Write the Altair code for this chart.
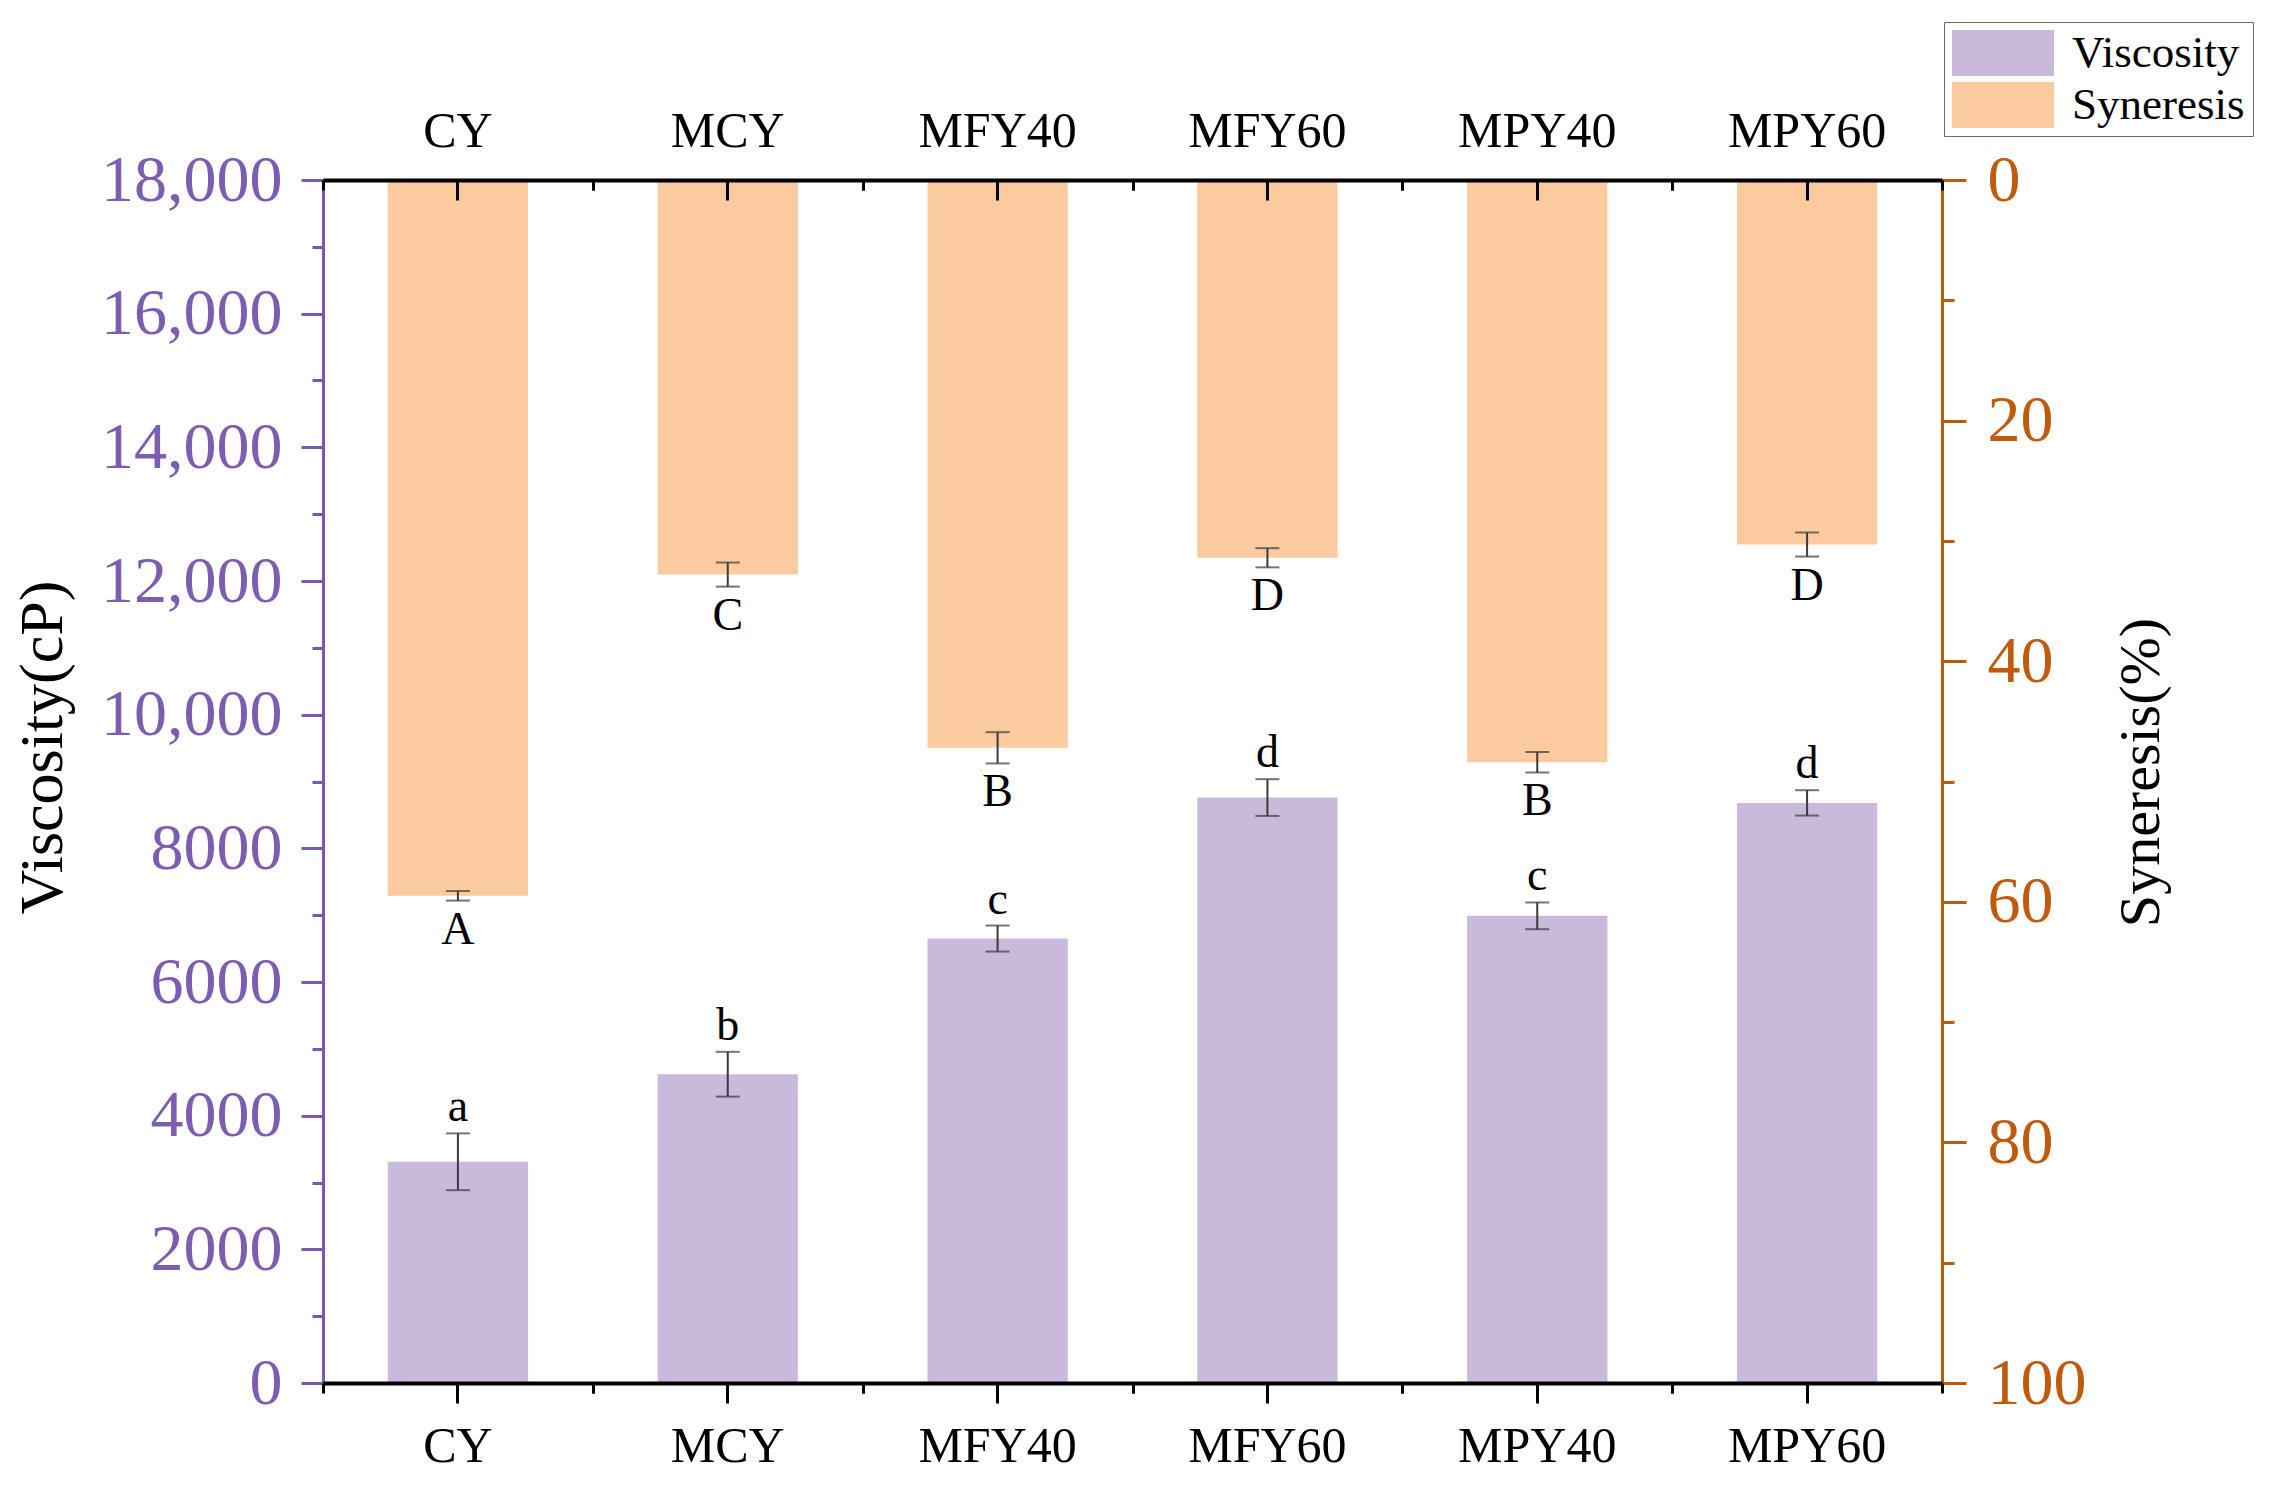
import altair as alt
import pandas as pd

# values
samples = ["CY", "MCY", "MFY40", "MFY60", "MPY40", "MPY60"]
viscosity = [3310, 4620, 6650, 8760, 6990, 8680]
viscosity_sd = [425, 335, 195, 275, 200, 190]
viscosity_group = ["a", "b", "c", "d", "c", "d"]
syneresis = [59.5, 32.8, 47.2, 31.4, 48.4, 30.3]
syneresis_sd = [0.4, 1.0, 1.3, 0.8, 0.85, 1.0]
syneresis_group = ["A", "C", "B", "D", "B", "D"]
series_names = ["Viscosity", "Syneresis"]

PURPLE_BAR = "#C9BADB"
PEACH_BAR = "#FBCB9F"
PURPLE_AXIS = "#7B57B4"
PURPLE_TEXT = "#7C5DB1"
ORANGE_AXIS = "#C05A0C"
ERR = "#3a3a3a"
FONT = "Liberation Serif"

W, H = 1619, 1203
HALF_STEP = W / len(samples) / 2

df = pd.DataFrame(
    {
        "sample": samples,
        "viscosity": viscosity,
        "visc_lo": [v - e for v, e in zip(viscosity, viscosity_sd)],
        "visc_hi": [v + e for v, e in zip(viscosity, viscosity_sd)],
        "visc_grp": viscosity_group,
        "syneresis": syneresis,
        "syn_lo": [v - e for v, e in zip(syneresis, syneresis_sd)],
        "syn_hi": [v + e for v, e in zip(syneresis, syneresis_sd)],
        "syn_grp": syneresis_group,
    }
)

base = alt.Chart(df)
x_scale = alt.Scale(domain=samples, paddingInner=0.48, paddingOuter=0.24)
visc_scale = alt.Scale(domain=[0, 18000], nice=False)
syn_scale = alt.Scale(domain=[0, 100], nice=False, reverse=True)


def x_enc(axis=None):
    return alt.X("sample:N", scale=x_scale, axis=axis, title=None)


color_scale = alt.Scale(domain=series_names, range=[PURPLE_BAR, PEACH_BAR])
legend = alt.Legend(
    title=None,
    orient="none",
    legendX=1621,
    legendY=-158,
    symbolType="M-1,-0.45L1,-0.45L1,0.45L-1,0.45Z",
    symbolSize=10404,
    symbolStrokeWidth=0,
    clipHeight=46,
    rowPadding=6,
    padding=8,
    strokeColor="#6b6b6b",
    fillColor="white",
    labelFont=FONT,
    labelFontSize=45,
    labelColor="black",
    labelOffset=18,
    labelLimit=400,
)

# bars
visc_bars = (
    base.transform_calculate(series="'Viscosity'")
    .mark_bar()
    .encode(
        x=x_enc(),
        y=alt.Y("viscosity:Q", scale=visc_scale, axis=None),
        color=alt.Color("series:N", scale=color_scale, legend=legend),
    )
)
syn_bars = (
    base.transform_calculate(series="'Syneresis'")
    .mark_bar()
    .encode(
        x=x_enc(),
        y=alt.Y("syneresis:Q", scale=syn_scale, axis=None),
        color=alt.Color("series:N", scale=color_scale, legend=legend),
    )
)

# error bars and significance letters
visc_err = base.mark_rule(color=ERR, strokeWidth=2).encode(
    x=x_enc(), y=alt.Y("visc_lo:Q", scale=visc_scale, axis=None), y2="visc_hi:Q"
)
visc_caps = (
    base.transform_fold(["visc_lo", "visc_hi"], as_=["end", "val"])
    .mark_tick(color=ERR, size=24, thickness=2)
    .encode(x=x_enc(), y=alt.Y("val:Q", scale=visc_scale, axis=None))
)
visc_txt = base.mark_text(
    font=FONT, fontSize=46, color="black", baseline="alphabetic", dy=-12
).encode(
    x=x_enc(), y=alt.Y("visc_hi:Q", scale=visc_scale, axis=None), text="visc_grp:N"
)

syn_err = base.mark_rule(color=ERR, strokeWidth=2).encode(
    x=x_enc(), y=alt.Y("syn_lo:Q", scale=syn_scale, axis=None), y2="syn_hi:Q"
)
syn_caps = (
    base.transform_fold(["syn_lo", "syn_hi"], as_=["end", "val"])
    .mark_tick(color=ERR, size=24, thickness=2)
    .encode(x=x_enc(), y=alt.Y("val:Q", scale=syn_scale, axis=None))
)
syn_txt = base.mark_text(
    font=FONT, fontSize=46, color="black", baseline="alphabetic", dy=43
).encode(
    x=x_enc(), y=alt.Y("syn_hi:Q", scale=syn_scale, axis=None), text="syn_grp:N"
)


# y axes: major + minor on each side
def y_axis_layer(field, scale, **kw):
    return base.mark_rule(opacity=0).encode(
        y=alt.Y(field, scale=scale, axis=alt.Axis(grid=False, zindex=1, **kw))
    )


left_common = dict(orient="left", tickColor=PURPLE_AXIS, tickWidth=3)
right_common = dict(orient="right", tickColor=ORANGE_AXIS, tickWidth=3)

y_axes = [
    y_axis_layer(
        "viscosity:Q",
        visc_scale,
        values=list(range(0, 18001, 2000)),
        labelExpr="datum.value >= 10000 ? format(datum.value, ',') : format(datum.value, 'd')",
        labelFont=FONT,
        labelFontSize=66,
        labelColor=PURPLE_TEXT,
        labelPadding=19,
        labelLimit=400,
        labelOverlap=False,
        labelFlush=False,
        domainColor=PURPLE_AXIS,
        domainWidth=3,
        tickSize=22,
        title="Viscosity(cP)",
        titleFont=FONT,
        titleFontSize=62,
        titleFontWeight="normal",
        titleColor="black",
        titleAngle=270,
        titleAlign="center",
        titleBaseline="middle",
        titleX=-281,
        titleY=567,
        **left_common,
    ),
    y_axis_layer(
        "viscosity:Q",
        visc_scale,
        values=list(range(1000, 18000, 2000)),
        labels=False,
        domain=False,
        tickSize=11,
        title=None,
        **left_common,
    ),
    y_axis_layer(
        "syneresis:Q",
        syn_scale,
        values=list(range(0, 101, 20)),
        labelFont=FONT,
        labelFontSize=66,
        labelColor=ORANGE_AXIS,
        labelPadding=21,
        labelLimit=400,
        labelOverlap=False,
        labelFlush=False,
        domainColor=ORANGE_AXIS,
        domainWidth=3,
        tickSize=24,
        title="Syneresis(%)",
        titleFont=FONT,
        titleFontSize=58,
        titleFontWeight="normal",
        titleColor="black",
        titleAngle=270,
        titleAlign="center",
        titleBaseline="middle",
        titleX=199,
        titleY=592,
        **right_common,
    ),
    y_axis_layer(
        "syneresis:Q",
        syn_scale,
        values=list(range(10, 100, 20)),
        labels=False,
        domain=False,
        tickSize=12,
        title=None,
        **right_common,
    ),
]

# category axes: bottom and top, centre ticks plus ticks between categories
x_common = dict(
    labelFont=FONT,
    labelFontSize=50,
    labelColor="black",
    labelAngle=0,
    domainColor="black",
    domainWidth=4,
    tickColor="black",
    tickWidth=3,
    grid=False,
    zindex=2,
)


def x_axis_layer(**kw):
    return base.mark_rule(opacity=0).encode(x=x_enc(alt.Axis(**x_common, **kw)))


minor = dict(labels=False, domain=False, tickSize=10)
x_axes = [
    x_axis_layer(orient="bottom", tickSize=20, labelPadding=18),
    x_axis_layer(orient="bottom", tickOffset=HALF_STEP, **minor),
    x_axis_layer(orient="bottom", tickOffset=-HALF_STEP, **minor),
    x_axis_layer(orient="top", ticks=False, tickSize=0, labelPadding=24),
    x_axis_layer(orient="bottom", offset=-H, tickSize=20, labels=False, domain=False),
    x_axis_layer(orient="bottom", offset=-H, tickOffset=HALF_STEP, **minor),
    x_axis_layer(orient="bottom", offset=-H, tickOffset=-HALF_STEP, **minor),
]

chart = (
    alt.layer(
        visc_bars, syn_bars,
        visc_err, visc_caps, syn_err, syn_caps,
        visc_txt, syn_txt,
        *y_axes, *x_axes,
    )
    .resolve_scale(x="independent", y="independent")
    .resolve_axis(x="independent", y="independent")
    .properties(
        width=W,
        height=H,
        autosize=alt.AutoSizeParams(type="none"),
        padding={"left": 315, "top": 172, "right": 327, "bottom": 95},
        background="white",
    )
    .configure_view(stroke=None)
)

chart.save("out.html", embed_options={"renderer": "svg", "actions": False})
